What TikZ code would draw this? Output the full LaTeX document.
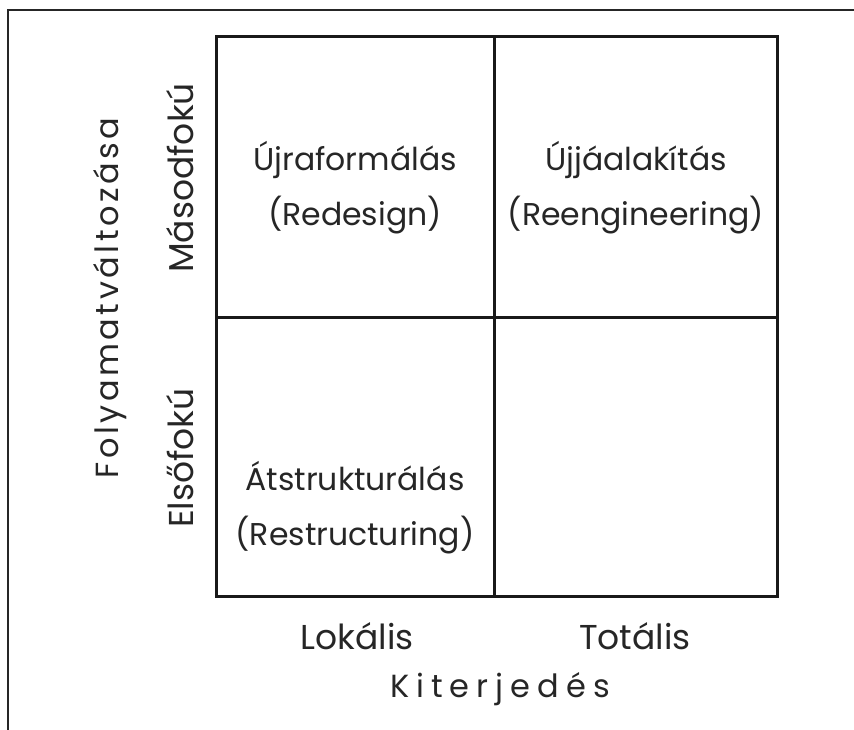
\documentclass[tikz,border=0pt]{standalone}
\usepackage{fontspec}
\setmainfont{Poppins}
\begin{document}
\begin{tikzpicture}[x=1pt,y=-1pt,
  frame/.style={line width=1.4pt,draw=black!85},
  grid/.style={line width=3pt,draw=black!90},
  cell/.style={font=\fontsize{31.5}{55}\selectfont,align=center,text=black!85,inner sep=0pt},
  axlab/.style={font=\fontsize{34.5}{40}\selectfont,text=black!85,inner sep=0pt},
  spacedk/.style={font=\fontsize{32}{36}\selectfont\addfontfeature{LetterSpace=22},text=black!85,inner sep=0pt},
  spacedf/.style={font=\fontsize{32}{36}\selectfont\addfontfeature{LetterSpace=11},text=black!85,inner sep=0pt}]
\useasboundingbox (0,0) rectangle (854,730);
\fill[white] (0,0) rectangle (854,730);
% outer frame
\coordinate (fa) at (8,730);
\coordinate (fb) at (8,10);
\coordinate (fc) at (854,10);
\draw[frame] (fa) -- (fb) -- (fc);
% grid
\coordinate (tl) at (216,37);
\coordinate (br) at (777,596);
\coordinate (mt) at (494,37);
\coordinate (mb) at (494,596);
\coordinate (ml) at (216,317);
\coordinate (mr) at (777,317);
\draw[grid] (tl) rectangle (br);
\draw[grid] (mt) -- (mb);
\draw[grid] (ml) -- (mr);
% cells
\node[cell] (c1) at (355,188) {Újraformálás\\(Redesign)};
\node[cell] (c2) at (636,188) {Újjáalakítás\\(Reengineering)};
\node[cell] (c3) at (355,508) {Átstrukturálás\\(Restructuring)};
% axis labels
\node[axlab] (lok) at (357,636) {Lokális};
\node[axlab] (tot) at (635,636) {Totális};
\node[spacedk] (kit) at (500,689) {Kiterjedés};
\node[axlab,rotate=90] (mas) at (180,178) {Másodfokú};
\node[axlab,rotate=90] (els) at (180,458) {Elsőfokú};
\node[spacedf,rotate=90] (foly) at (110,298) {Folyamatváltozása};
\end{tikzpicture}
\end{document}
